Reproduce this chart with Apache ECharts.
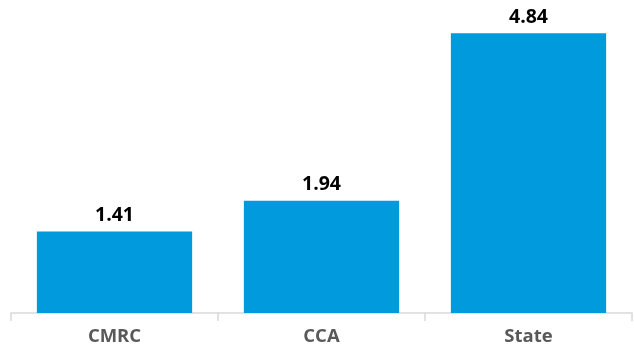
<!DOCTYPE html>
<html>
<head>
<meta charset="utf-8">
<script src="https://cdn.jsdelivr.net/npm/echarts@6/dist/echarts.min.js"></script>
<style>
  html, body { margin: 0; padding: 0; background: #fff; }
  #chart { width: 634px; height: 348px; }
</style>
</head>
<body>
<div id="chart"></div>
<script>
// Categories and their values
const categories = ['CMRC', 'CCA', 'State'];
const values = [1.41, 1.94, 4.84];

const chart = echarts.init(document.getElementById('chart'), null, { renderer: 'canvas' });

chart.setOption({
  animation: false,
  grid: { left: 11, right: 2, top: 24, bottom: 35, containLabel: false },
  xAxis: {
    type: 'category',
    data: categories,
    axisLine: { show: true, lineStyle: { color: '#d9d9d9', width: 1.5 } },
    axisTick: { show: true, length: 8, lineStyle: { color: '#d9d9d9', width: 1.5 } },
    axisLabel: {
      margin: 14,
      color: '#595959',
      fontFamily: 'Open Sans',
      fontWeight: 'bold',
      fontSize: 18.5
    }
  },
  yAxis: {
    type: 'value',
    min: 0,
    max: 5,
    show: false,
    splitLine: { show: false }
  },
  series: [{
    type: 'bar',
    data: values,
    barCategoryGap: '25%',
    itemStyle: { color: '#009ADD' },
    label: {
      show: true,
      position: 'top',
      distance: 6,
      color: '#000',
      fontFamily: 'Open Sans',
      fontWeight: 'bold',
      fontSize: 19.5,
      formatter: p => p.value.toFixed(2)
    }
  }]
});
</script>
</body>
</html>
